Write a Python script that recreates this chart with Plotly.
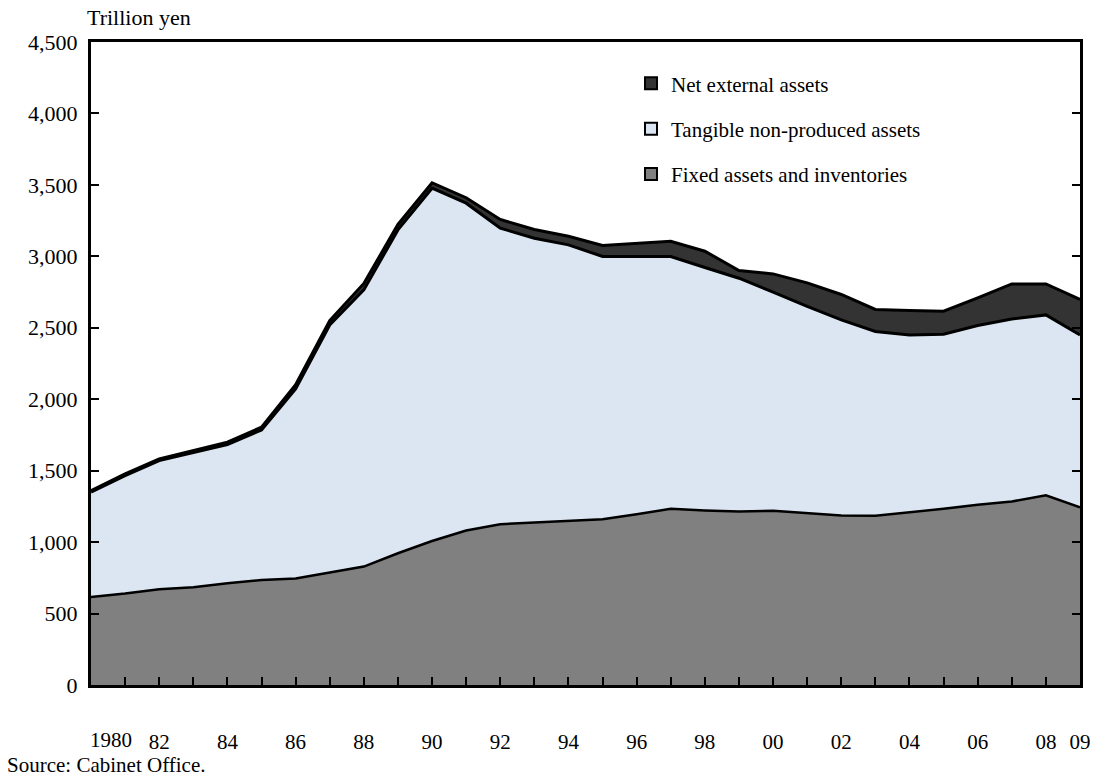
import plotly.graph_objects as go

# Japan national wealth, trillion yen (stacked)
years = list(range(1980, 2010))
fixed_assets = [616, 640, 670, 684, 712, 735, 745, 785, 829, 922,
                1008, 1081, 1125, 1137, 1151, 1160, 1195, 1233, 1222, 1214,
                1219, 1202, 1186, 1184, 1207, 1233, 1261, 1284, 1328, 1243]
tangible_nonproduced = [734, 825, 900, 941, 971, 1050, 1328, 1735, 1936, 2263,
                        2469, 2291, 2072, 1990, 1929, 1839, 1804, 1766, 1700, 1633,
                        1530, 1447, 1369, 1290, 1243, 1222, 1255, 1278, 1262, 1207]
net_external = [10, 13, 13, 15, 17, 20, 28, 30, 45, 38,
                38, 38, 61, 61, 61, 77, 91, 107, 114, 54,
                128, 165, 178, 154, 171, 161, 193, 245, 217, 248]

series_names = ["Fixed assets and inventories",
                "Tangible non-produced assets",
                "Net external assets"]
series_colors = ["#808080", "#DCE6F2", "#333333"]
line_widths = [2.5, 3, 3]

tick_years = years
tick_text = ["" if (y % 2 or y == 1980) else f"{y % 100:02d}" for y in years]
tick_text[-1] = "09"

FONT = "Liberation Serif, Times New Roman, serif"

fig = go.Figure()
for name, vals, col, lw in zip(series_names,
                               [fixed_assets, tangible_nonproduced, net_external],
                               series_colors, line_widths):
    fig.add_trace(go.Scatter(
        x=years, y=vals, name=name, mode="lines", stackgroup="one",
        line=dict(color="black", width=lw), fillcolor=col,
        showlegend=False, hoverinfo="x+y+name"))

# legend entries with square swatches, top series listed first
for i, (name, col) in enumerate(zip(series_names[::-1], series_colors[::-1])):
    fig.add_trace(go.Scatter(
        x=[None], y=[None], mode="markers", name=name, legendgroup=f"g{i}",
        marker=dict(symbol="square", size=12, color=col,
                    line=dict(color="black", width=2)),
        showlegend=True))

fig.update_layout(
    width=1105, height=780,
    margin=dict(l=91, r=25, t=42, b=95),
    paper_bgcolor="white", plot_bgcolor="white",
    font=dict(family=FONT, size=22, color="black"),
    showlegend=True,
    legend=dict(x=0.546, y=0.967, xanchor="left", yanchor="top",
                traceorder="grouped", tracegroupgap=15,
                bgcolor="rgba(0,0,0,0)", font=dict(size=21),
                itemsizing="constant"),
    xaxis=dict(range=[1980, 2009], tickmode="array", tickvals=tick_years,
               ticktext=tick_text, ticks="inside", ticklen=8, tickwidth=2,
               tickcolor="black", showline=True, linecolor="black", linewidth=3,
               mirror=True, showgrid=False, zeroline=False,
               ticklabelstandoff=36, tickangle=0, tickfont=dict(size=21)),
    yaxis=dict(range=[0, 4500], dtick=500, tickformat=",d", ticks="inside",
               ticklen=8, tickwidth=2, tickcolor="black", showline=True,
               linecolor="black", linewidth=3, mirror="ticks", showgrid=False,
               zeroline=False, ticklabelstandoff=6),
    annotations=[
        dict(text="Trillion yen", xref="paper", yref="paper", x=-0.006, y=1.038,
             xanchor="left", yanchor="middle", showarrow=False,
             font=dict(size=22)),
        dict(text="1980", xref="x", yref="paper", x=1980, y=-0.086,
             xanchor="left", yanchor="middle", xshift=-3, showarrow=False,
             font=dict(size=21)),
        dict(text="Source: Cabinet Office.", xref="paper", yref="paper",
             x=-0.087, y=-0.125, xanchor="left", yanchor="middle",
             showarrow=False, font=dict(size=21)),
    ],
)

fig.write_html("out.html")
